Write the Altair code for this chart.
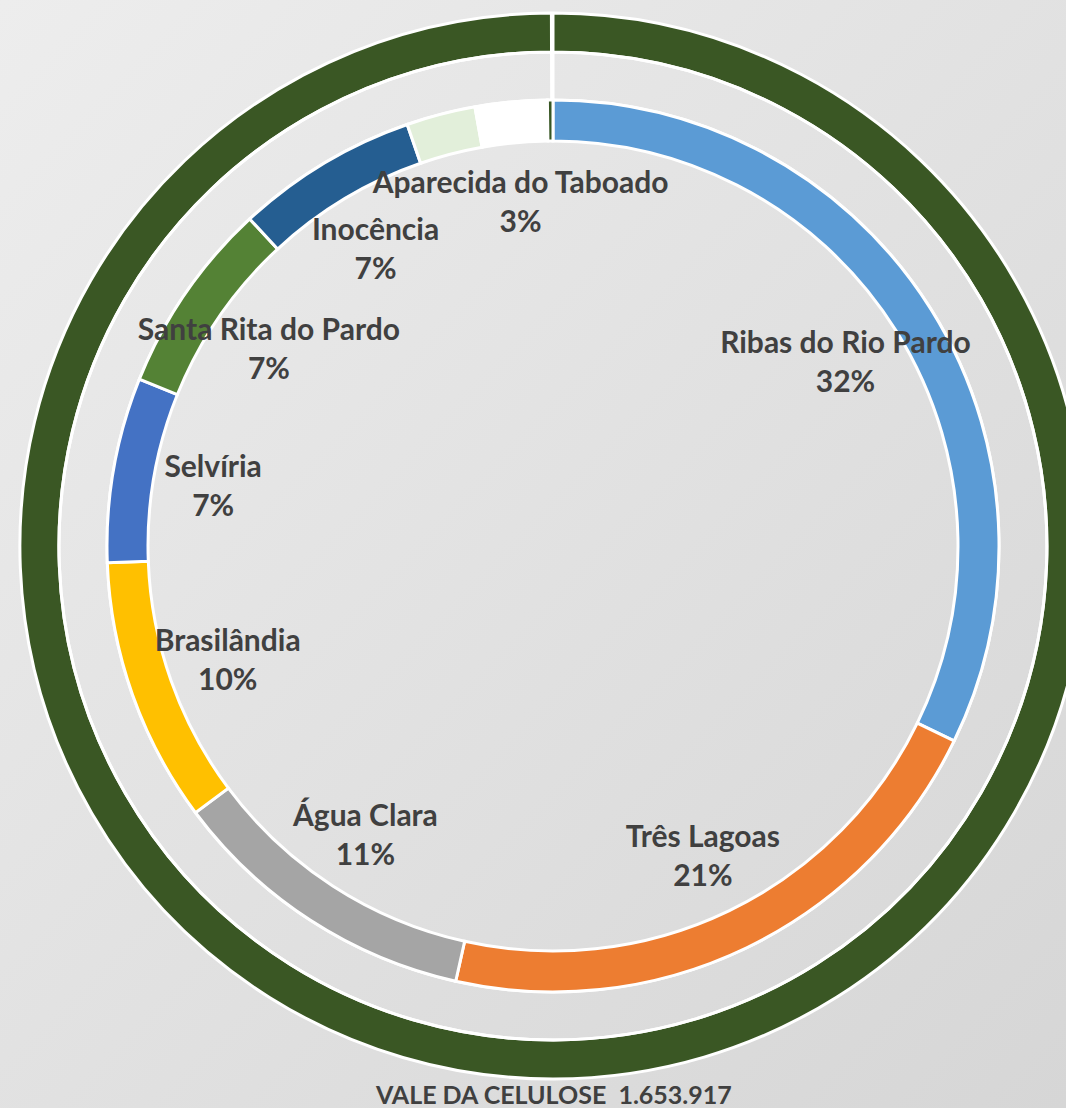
import altair as alt
import pandas as pd

# ---- data ----
inner_names = ["Ribas do Rio Pardo", "Três Lagoas", "Água Clara", "Brasilândia", "Selvíria",
               "Santa Rita do Pardo", "Inocência", "Outros (a)", "Aparecida do Taboado", "Outros (b)"]
inner_shown = [True, True, True, True, True, True, True, False, True, False]
inner_pct = [32.2, 21.3, 11.3, 9.6, 6.7, 7.0, 6.6, 2.5, 2.6, 0.2]
inner_colors = ["#5B9BD5", "#ED7D31", "#A5A5A5", "#FFC000", "#4472C4",
                "#548235", "#255E91", "#E2EFDA", "#FFFFFF", "#375623"]

outer_names = ["VALE DA CELULOSE"]
outer_values = [1653917]
outer_color = "#3A5724"

# ---- tables ----
inner_df = pd.DataFrame({
    "name": inner_names,
    "pct": inner_pct,
    "order": list(range(len(inner_names))),
    "label": [f"{n}\n{round(p)}%" if s else "" for n, p, s in zip(inner_names, inner_pct, inner_shown)],
})
outer_df = pd.DataFrame({
    "name": outer_names,
    "value": outer_values,
    "label": [f"{n}\u00a0 {v:,}".replace(",", ".") for n, v in zip(outer_names, outer_values)],
})

CX, CY = 553, 546
full = 6.2802  # leave a hairline opening at 12 o'clock
theta_outer = alt.Theta("value:Q", stack=True, scale=alt.Scale(range=[0, full]))

bg = alt.Chart(pd.DataFrame({"k": [0]})).mark_rect(
    fill=alt.Gradient(gradient="linear", x1=0, y1=0, x2=1, y2=1,
                      stops=[alt.GradientStop(offset=0, color="#ededed"),
                             alt.GradientStop(offset=1, color="#d6d6d6")])
).encode(x=alt.value(0), x2=alt.value(1066), y=alt.value(0), y2=alt.value(1108))

outer = alt.Chart(outer_df).mark_arc(fill=outer_color, stroke="white", strokeWidth=3).encode(
    theta=theta_outer, radius=alt.value(533), radius2=alt.value(494),
    x=alt.value(CX), y=alt.value(CY))

middle = alt.Chart(outer_df).mark_arc(fill="white", fillOpacity=0, stroke="white", strokeWidth=3).encode(
    theta=theta_outer, radius=alt.value(494), radius2=alt.value(446),
    x=alt.value(CX), y=alt.value(CY))

inner = alt.Chart(inner_df).mark_arc(stroke="white", strokeWidth=3).encode(
    theta=alt.Theta("pct:Q", stack=True),
    order=alt.Order("order:Q"),
    color=alt.Color("name:N", scale=alt.Scale(domain=inner_names, range=inner_colors), legend=None),
    radius=alt.value(446), radius2=alt.value(405),
    x=alt.value(CX), y=alt.value(CY))

inner_text = alt.Chart(inner_df).mark_text(
    font="Lato", fontWeight="bold", fontSize=30, color="#404040",
    lineBreak="\n", lineHeight=39, align="center", baseline="middle", dy=-19
).encode(
    theta=alt.Theta("pct:Q", stack=True),
    order=alt.Order("order:Q"),
    text="label:N",
    radius=alt.value(345),
    x=alt.value(CX), y=alt.value(CY))

outer_text = alt.Chart(outer_df).mark_text(
    font="Lato", fontWeight="bold", fontSize=25, color="#404040",
    align="center", baseline="alphabetic"
).encode(
    theta=theta_outer, text="label:N", radius=alt.value(558),
    x=alt.value(CX), y=alt.value(CY))

chart = alt.layer(bg, outer, middle, inner, inner_text, outer_text).resolve_scale(
    theta="independent"
).properties(
    width=1066, height=1108, padding=0, autosize=alt.AutoSizeParams(type="none")
).configure_view(strokeWidth=0)

chart.save("out.html", embed_options={"renderer": "svg", "actions": False})
